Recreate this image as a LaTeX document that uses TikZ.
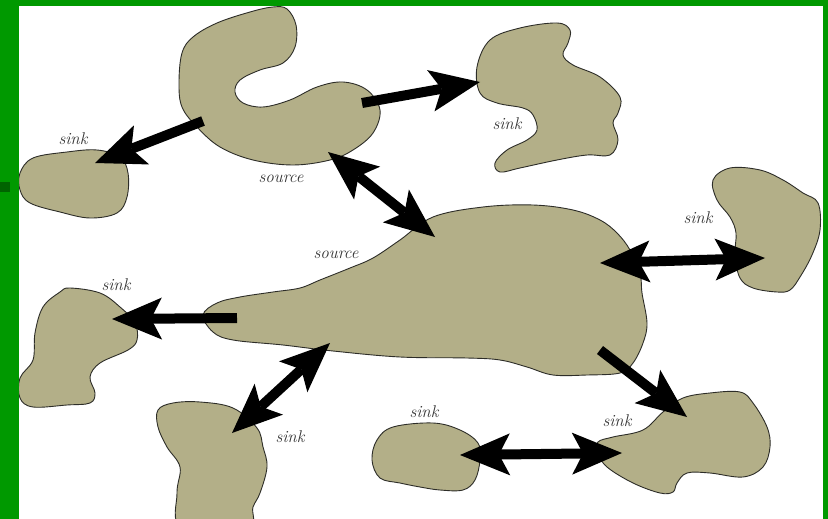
\documentclass[tikz,border=0pt]{standalone}
\usetikzlibrary{arrows.meta}
\definecolor{blobfill}{RGB}{179,175,136}
\definecolor{blobline}{RGB}{45,45,40}
\definecolor{frame}{RGB}{0,153,0}
\definecolor{framedark}{RGB}{0,100,0}
\tikzset{
  blob/.style={fill=blobfill, draw=blobline, line width=0.9pt},
  tipA/.tip={Stealth[length=50pt,width=42pt,inset=11pt,line width=0pt]},
  onearrow/.style={line width=10pt, -tipA},
  twoarrow/.style={line width=10pt, tipA-tipA},
  lbl/.style={font=\fontsize{17}{17}\selectfont\itshape, text=black!80, inner sep=0pt}
}
\begin{document}
\begin{tikzpicture}[x=1pt,y=-1pt]
\useasboundingbox (0,0) rectangle (828,519);
\clip (0,0) rectangle (828,519);
\fill[white] (0,0) rectangle (828,519);
% blobs
\draw[blob] plot[smooth cycle, tension=0.6] coordinates {(179,83) (182,53) (193,37) (217,23) (250,12) (273,7) (287,9) (296,25) (295,47) (283,63) (260,70) (240,80) (235,92) (243,103) (263,107) (290,100) (317,87) (343,82) (367,90) (380,110) (373,133) (353,150) (330,160) (293,165) (253,160) (220,147) (197,127) (182,107)};
\draw[blob] plot[smooth cycle, tension=0.6] coordinates {(20,173) (33,158) (67,152) (97,150) (120,157) (128,173) (127,197) (117,213) (90,218) (60,212) (30,203) (20,190)};
\draw[blob] plot[smooth cycle, tension=0.6] coordinates {(477,67) (490,40) (520,28) (557,23) (570,30) (568,43) (563,55) (573,65) (600,77) (620,97) (618,113) (613,123) (618,140) (610,155) (587,155) (557,160) (520,168) (500,172) (495,163) (507,150) (527,140) (537,130) (533,115) (523,108) (497,103) (480,93)};
\draw[blob] plot[smooth cycle, tension=0.6] coordinates {(713,180) (730,168) (760,170) (783,180) (803,193) (818,203) (820,230) (812,255) (800,277) (790,290) (777,292) (753,288) (740,278) (735,255) (736,233) (730,217) (717,200)};
\draw[blob] plot[smooth cycle, tension=0.6] coordinates {(203,315) (217,303) (240,297) (273,292) (300,288) (320,280) (350,268) (373,258) (400,240) (433,217) (483,207) (533,205) (573,210) (600,220) (617,233) (630,250) (640,273) (642,293) (647,323) (643,343) (633,363) (620,373) (587,375) (553,375) (527,367) (500,360) (467,358) (400,357) (333,351) (283,345) (233,340) (213,332)};
\draw[blob] plot[smooth cycle, tension=0.6] coordinates {(20,378) (33,360) (35,333) (43,307) (60,292) (70,288) (100,293) (120,307) (135,323) (137,340) (128,350) (100,363) (90,377) (95,393) (90,403) (67,405) (33,407) (20,398)};
\draw[blob] plot[smooth cycle, tension=0.6] coordinates {(158,410) (173,403) (200,402) (233,408) (257,428) (263,447) (267,467) (260,493) (253,507) (247,528) (182,528) (177,493) (180,467) (167,447) (158,427)};
\draw[blob] plot[smooth cycle, tension=0.6] coordinates {(372,460) (377,440) (393,427) (433,423) (460,430) (478,443) (480,460) (475,480) (463,490) (440,490) (420,487) (400,483) (380,478)};
\draw[blob] plot[smooth cycle, tension=0.6] coordinates {(598,442) (613,437) (643,430) (663,412) (683,398) (710,393) (740,392) (753,403) (767,427) (770,447) (763,467) (743,477) (710,473) (687,473) (677,483) (673,492) (660,493) (633,483) (607,467) (598,453)};
% arrow end points
\coordinate (a1s) at (203,121); \coordinate (a1e) at (95,163);
\coordinate (a2s) at (362,103); \coordinate (a2e) at (480,82);
\coordinate (a3s) at (328,152); \coordinate (a3e) at (435,237);
\coordinate (a4s) at (600,263); \coordinate (a4e) at (765,258);
\coordinate (a5s) at (237,318); \coordinate (a5e) at (112,319);
\coordinate (a6s) at (330,343); \coordinate (a6e) at (232,433);
\coordinate (a7s) at (600,350); \coordinate (a7e) at (687,417);
\coordinate (a8s) at (460,455); \coordinate (a8e) at (622,453);
\draw[onearrow] (a1s) -- (a1e);
\draw[onearrow] (a2s) -- (a2e);
\draw[twoarrow] (a3s) -- (a3e);
\draw[twoarrow] (a4s) -- (a4e);
\draw[onearrow] (a5s) -- (a5e);
\draw[twoarrow] (a6s) -- (a6e);
\draw[onearrow] (a7s) -- (a7e);
\draw[twoarrow] (a8s) -- (a8e);
% labels
\node[lbl] (l1) at (73,139) {sink};
\node[lbl] (l2) at (281,179) {source};
\node[lbl] (l3) at (507,124) {sink};
\node[lbl] (l4) at (336,255) {source};
\node[lbl] (l5) at (698,218) {sink};
\node[lbl] (l6) at (116,285) {sink};
\node[lbl] (l7) at (290,437) {sink};
\node[lbl] (l8) at (424,412) {sink};
\node[lbl] (l9) at (617,421) {sink};
% frame
\fill[frame] (0,0) rectangle (828,6);
\fill[frame] (0,0) rectangle (19,519);
\fill[frame] (823,0) rectangle (828,519);
\fill[framedark] (0,182) rectangle (10,192);
\end{tikzpicture}
\end{document}
